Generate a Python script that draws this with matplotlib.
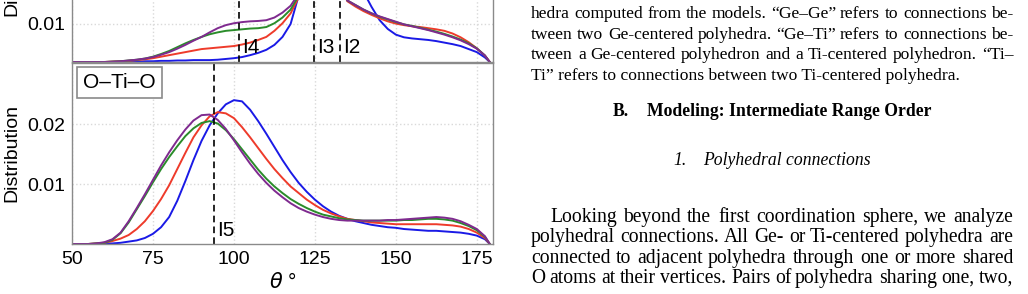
import matplotlib
matplotlib.use("Agg")
import matplotlib.pyplot as plt

W, H = 1028, 294

# ---------------- data ----------------
theta = [50, 52.5, 55, 57.5, 60, 62.5, 65, 67.5, 70, 72.5, 75, 77.5, 80, 82.5, 85, 87.5,
         90, 92.5, 95, 97.5, 100, 102.5, 105, 107.5, 110, 112.5, 115, 117.5, 120, 122.5,
         125, 127.5, 130, 132.5, 135, 137.5, 140, 142.5, 145, 147.5, 150, 152.5, 155,
         157.5, 160, 162.5, 165, 167.5, 170, 172.5, 175, 177.5, 179]

# upper panel (cut off at the top of the page)
top_blue = [0, 0, 0, 0, 0, 0, 0, 0.0001, 0.0001, 0.0002, 0.0002, 0.0003, 0.0003, 0.0004,
            0.0004, 0.0005, 0.0005, 0.0005, 0.0006, 0.0008, 0.0010, 0.0013, 0.0018, 0.0024,
            0.0032, 0.0045, 0.0066, 0.0100, 0.0175, 0.0270, 0.0370, 0.0430, 0.0440, 0.0400,
            0.0320, 0.0240, 0.0185, 0.0145, 0.0110, 0.0087, 0.0072, 0.0065, 0.0062, 0.0060,
            0.0058, 0.0055, 0.0051, 0.0047, 0.0042, 0.0034, 0.0026, 0.0012, 0]
top_red = [0, 0, 0, 0, 0, 0.0001, 0.0002, 0.0003, 0.0005, 0.0007, 0.0010, 0.0014, 0.0018,
           0.0022, 0.0026, 0.0030, 0.0034, 0.0036, 0.0038, 0.0040, 0.0042, 0.0046, 0.0051,
           0.0058, 0.0066, 0.0082, 0.0102, 0.0128, 0.0170, 0.0230, 0.0290, 0.0320, 0.0290,
           0.0220, 0.0160, 0.0146, 0.0134, 0.0124, 0.0115, 0.0107, 0.0101, 0.0097, 0.0094,
           0.0092, 0.0089, 0.0086, 0.0082, 0.0075, 0.0065, 0.0052, 0.0036, 0.0017, 0]
top_green = [0, 0, 0, 0, 0, 0.0001, 0.0002, 0.0004, 0.0006, 0.0009, 0.0014, 0.0021, 0.0029,
             0.0039, 0.0049, 0.0058, 0.0066, 0.0073, 0.0078, 0.0082, 0.0084, 0.0086, 0.0088,
             0.0089, 0.0092, 0.0102, 0.0117, 0.0138, 0.0175, 0.0230, 0.0290, 0.0310, 0.0280,
             0.0210, 0.0162, 0.0150, 0.0138, 0.0128, 0.0119, 0.0112, 0.0105, 0.0099, 0.0095,
             0.0090, 0.0085, 0.0080, 0.0074, 0.0067, 0.0059, 0.0049, 0.0036, 0.0017, 0]
top_purple = [0, 0, 0, 0, 0, 0.0001, 0.0002, 0.0004, 0.0006, 0.0009, 0.0013, 0.0019, 0.0026,
              0.0035, 0.0045, 0.0056, 0.0066, 0.0078, 0.0089, 0.0097, 0.0102, 0.0105, 0.0107,
              0.0108, 0.0110, 0.0117, 0.0130, 0.0148, 0.0180, 0.0230, 0.0285, 0.0300, 0.0270,
              0.0205, 0.0162, 0.0150, 0.0138, 0.0128, 0.0120, 0.0113, 0.0106, 0.0099, 0.0094,
              0.0089, 0.0084, 0.0078, 0.0072, 0.0065, 0.0057, 0.0047, 0.0035, 0.0017, 0]

# lower panel: O-Ti-O
oto_blue = [0, 0, 0, 0, 0.0001, 0.0001, 0.0002, 0.0004, 0.0006, 0.0010, 0.0017, 0.0028,
            0.0045, 0.0072, 0.0105, 0.0140, 0.0172, 0.0198, 0.0218, 0.0233, 0.0240, 0.0238,
            0.0224, 0.0205, 0.0184, 0.0162, 0.0140, 0.0120, 0.0102, 0.0087, 0.0074, 0.0063,
            0.0054, 0.0047, 0.0042, 0.0038, 0.0035, 0.0032, 0.0030, 0.0028, 0.0027, 0.0025,
            0.0024, 0.0023, 0.0022, 0.0022, 0.0021, 0.0020, 0.0019, 0.0017, 0.0014, 0.0008, 0]
oto_red = [0, 0, 0, 0.0001, 0.0002, 0.0005, 0.0009, 0.0015, 0.0025, 0.0038, 0.0055, 0.0075,
           0.0098, 0.0125, 0.0152, 0.0178, 0.0198, 0.0213, 0.0220, 0.0218, 0.0210, 0.0195,
           0.0178, 0.0160, 0.0142, 0.0125, 0.0110, 0.0096, 0.0085, 0.0074, 0.0065, 0.0057,
           0.0051, 0.0046, 0.0042, 0.0040, 0.0038, 0.0036, 0.0035, 0.0034, 0.0033, 0.0033,
           0.0033, 0.0033, 0.0033, 0.0033, 0.0032, 0.0031, 0.0029, 0.0025, 0.0019, 0.0010, 0]
oto_green = [0, 0, 0, 0.0001, 0.0002, 0.0007, 0.0018, 0.0036, 0.0058, 0.0080, 0.0103, 0.0125,
             0.0145, 0.0163, 0.0180, 0.0193, 0.0202, 0.0205, 0.0201, 0.0190, 0.0175, 0.0158,
             0.0141, 0.0124, 0.0109, 0.0096, 0.0085, 0.0075, 0.0067, 0.0060, 0.0054, 0.0049,
             0.0046, 0.0043, 0.0041, 0.0040, 0.0039, 0.0039, 0.0039, 0.0039, 0.0039, 0.0040,
             0.0040, 0.0041, 0.0042, 0.0042, 0.0041, 0.0039, 0.0035, 0.0030, 0.0023, 0.0012, 0]
oto_purple = [0, 0, 0, 0.0001, 0.0003, 0.0008, 0.0019, 0.0038, 0.0060, 0.0083, 0.0107, 0.0131,
              0.0153, 0.0173, 0.0191, 0.0206, 0.0215, 0.0216, 0.0207, 0.0192, 0.0173, 0.0153,
              0.0134, 0.0117, 0.0102, 0.0089, 0.0078, 0.0068, 0.0060, 0.0054, 0.0049, 0.0045,
              0.0042, 0.0040, 0.0039, 0.0039, 0.0039, 0.0039, 0.0039, 0.0040, 0.0040, 0.0041,
              0.0042, 0.0043, 0.0044, 0.0045, 0.0044, 0.0042, 0.0038, 0.0032, 0.0025, 0.0013, 0]

top_markers = {"I4": 101.5, "I3": 124.7, "I2": 132.7}
bot_markers = {"I5": 94.0}
panel_label = "O–Ti–O"
x_ticks = [50, 75, 100, 125, 150, 175]

text_top = [
    "hedra computed from the models. “Ge–Ge” refers to connections be-",
    "tween two Ge-centered polyhedra. “Ge–Ti” refers to connections be-",
    "tween a Ge-centered polyhedron and a Ti-centered polyhedron. “Ti–",
    "Ti” refers to connections between two Ti-centered polyhedra.",
]
heading = ("B.", "Modeling: Intermediate Range Order")
subheading = ("1.", "Polyhedral connections")
text_body = [
    "Looking beyond the first coordination sphere, we analyze",
    "polyhedral connections. All Ge- or Ti-centered polyhedra are",
    "connected to adjacent polyhedra through one or more shared",
    "O atoms at their vertices. Pairs of polyhedra sharing one, two,",
]

# ---------------- figure ----------------
plt.rcParams["font.family"] = ["Liberation Sans", "DejaVu Sans"]
fig = plt.figure(figsize=(W / 100, H / 100), dpi=100)
fig.patch.set_facecolor("white")

colors = {"blue": "#1a1ae6", "red": "#ee3b2b", "green": "#2a8c2a", "purple": "#7f2a8f"}


def style(ax):
    for s in ax.spines.values():
        s.set_color("#8a8a8a")
        s.set_linewidth(1.0)
    ax.grid(True, color="#d9d9d9", linestyle=":", linewidth=1.0)
    ax.set_axisbelow(True)
    ax.tick_params(length=0, labelsize=14, pad=5)
    ax.set_xlim(50, 180)
    ax.set_xticks(x_ticks)


ax_top = fig.add_axes([72 / W, (H - 62) / H, 421 / W, 190 / H])
ax_bot = fig.add_axes([72 / W, (H - 244) / H, 421 / W, 181 / H])

for ax, series in ((ax_top, (top_blue, top_red, top_green, top_purple)),
                   (ax_bot, (oto_blue, oto_red, oto_green, oto_purple))):
    style(ax)
    for vals, c in zip(series, ("blue", "red", "green", "purple")):
        ax.plot(theta, vals, color=colors[c], lw=1.4, solid_capstyle="round")
    ax.set_ylabel("Distribution", fontsize=14, labelpad=5)

ax_top.set_ylim(0, 0.05)
ax_top.set_yticks([0.01, 0.02, 0.03, 0.04])
ax_top.set_yticklabels(["0.01", "0.02", "0.03", "0.04"])
ax_top.tick_params(labelbottom=False)
ax_bot.set_ylim(0, 0.0302)
ax_bot.set_yticks([0.01, 0.02])
ax_bot.set_yticklabels(["0.01", "0.02"])
ax_bot.set_xlabel(r"$\theta$ °", fontsize=15, labelpad=3)

for name, xv in top_markers.items():
    ax_top.axvline(xv, color="black", ls=(0, (4, 2.5)), lw=1.2)
    ax_top.text(xv + 0.9, 0.0037, name, fontsize=15, va="center", ha="left")
for name, xv in bot_markers.items():
    ax_bot.axvline(xv, color="black", ls=(0, (4, 2.5)), lw=1.2)
    ax_bot.text(xv + 0.9, 0.0022, name, fontsize=15, va="center", ha="left")

ax_bot.text(0.027, 0.945, panel_label, transform=ax_bot.transAxes, fontsize=15,
            va="top", ha="left",
            bbox=dict(boxstyle="square,pad=0.3", fc="white", ec="#8a8a8a", lw=1.2))

# ---------------- text column ----------------
renderer = fig.canvas.get_renderer()
serif = "Liberation Serif"
FS_CAP = 12.6     # figure caption (smaller type)
FS_HEAD = 12.7    # section headings
FS_BODY = 14.1    # body text
LEFT, RIGHT = 531, 1013


def fx(x):
    return x / W


def fy(y):
    return 1 - y / H


def put_line(line, base_y, fs, justify=True, indent=0):
    words = line.split(" ")
    if not justify:
        fig.text(fx(LEFT + indent), fy(base_y), line, fontsize=fs, family=serif,
                 va="baseline", ha="left")
        return
    objs = [fig.text(0, fy(base_y), w, fontsize=fs, family=serif, va="baseline",
                     ha="left") for w in words]
    widths = [o.get_window_extent(renderer=renderer).width for o in objs]
    start = LEFT + indent
    gap = (RIGHT - start - sum(widths)) / (len(words) - 1)
    x = start
    for o, wd in zip(objs, widths):
        o.set_x(fx(round(x)))
        x += wd + gap


def put_centered(parts, base_y, gap, **kw):
    center = (LEFT + RIGHT) / 2
    objs = [fig.text(0, fy(base_y), p, fontsize=FS_HEAD, family=serif,
                     va="baseline", ha="left", **kw) for p in parts]
    widths = [o.get_window_extent(renderer=renderer).width for o in objs]
    x = center - (sum(widths) + gap * (len(parts) - 1)) / 2
    for o, wd in zip(objs, widths):
        o.set_x(fx(x))
        x += wd + gap


top_bases = [18, 39, 59, 80]
for i, line in enumerate(text_top):
    put_line(line, top_bases[i], FS_CAP, justify=(i < len(text_top) - 1))

put_centered(heading, 116, 18, weight="bold")
put_centered(subheading, 165, 16, style="italic")

body_bases = [222, 242, 263, 283]
for i, line in enumerate(text_body):
    put_line(line, body_bases[i], FS_BODY, justify=True, indent=(19 if i == 0 else 0))

fig.savefig("out.png", dpi=100)
